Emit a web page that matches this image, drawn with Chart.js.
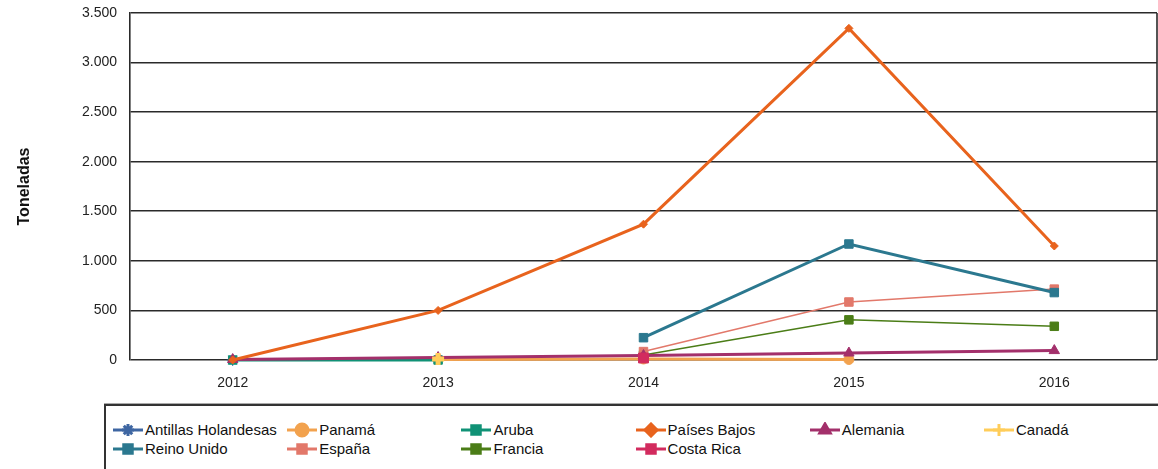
<!DOCTYPE html>
<html>
<head>
<meta charset="utf-8">
<script src="https://cdn.jsdelivr.net/npm/chart.js@4.4.1/dist/chart.umd.min.js"></script>
<style>
  html, body { margin: 0; padding: 0; background: #fff; }
  body { width: 1158px; height: 469px; position: relative; overflow: hidden; font-family: "Liberation Sans", Arial, sans-serif; }
  #wrap { position: absolute; left: 0; top: 0; width: 1158px; height: 400px; }
  #legend {
    position: absolute; left: 104px; top: 404px; width: 1100px; height: 80px;
    border: 2px solid #333; box-shadow: 0 -1px 0 #aaa; box-sizing: border-box;
  }
  .leg-item { position: absolute; height: 19px; display: flex; align-items: center; font-size: 15px; color: #111; white-space: nowrap; }
  .leg-item canvas { margin-right: 2px; }
</style>
</head>
<body>
<div id="wrap"><canvas id="chart"></canvas></div>
<div id="legend"></div>
<script>
// categories and values (toneladas)
const years = ["2012", "2013", "2014", "2015", "2016"];
const yTicks = [0, 500, 1000, 1500, 2000, 2500, 3000, 3500];

const antillasHolandesas = [0, null, null, null, null];
const panama = [null, 5, 10, 5, null];
const aruba = [0, 0, null, null, null];
const paisesBajos = [0, 500, 1370, 3345, 1150];
const alemania = [5, 25, 45, 70, 95];
const canada = [null, 10, null, null, null];
const reinoUnido = [null, null, 225, 1170, 680];
const espana = [null, null, 85, 585, 715];
const francia = [null, null, 50, 405, 340];
const costaRica = [null, null, 20, null, null];

function fmt(v) {
    return String(v).replace(/\B(?=(\d{3})+(?!\d))/g, ".");
}

// name, data, colour, line width, point style, point radius, draw order
const series = [
    ["Antillas Holandesas", antillasHolandesas, "#3e66a2", 3, "star", 6, 9],
    ["Panamá", panama, "#f2a24e", 3, "circle", 5, 8],
    ["Aruba", aruba, "#109276", 3, "rect", 6, 7],
    ["Países Bajos", paisesBajos, "#e8631d", 3, "rectRot", 4, 1],
    ["Alemania", alemania, "#a3306b", 3, "triangle", 6, 4],
    ["Canadá", canada, "#ffcd5a", 3, "cross", 6, 2],
    ["Reino Unido", reinoUnido, "#2b788f", 3, "rect", 6, 5],
    ["España", espana, "#e2786a", 1.5, "rect", 6, 6],
    ["Francia", francia, "#4b7d17", 1.5, "rect", 6, 6],
    ["Costa Rica", costaRica, "#d22b5e", 3, "rect", 7, 3],
];

const datasets = series.map(([label, data, color, width, style, radius, order]) => ({
    label,
    data,
    borderColor: color,
    backgroundColor: color,
    borderWidth: width,
    pointStyle: style,
    pointRadius: radius,
    pointBorderWidth: style === "cross" ? 5 : 1,
    pointBackgroundColor: color,
    pointBorderColor: color,
    order,
    tension: 0,
    spanGaps: false,
    clip: false,
}));

const noPad = (s) => { s.paddingTop = 0; s.paddingBottom = 0; s.paddingLeft = 0; s.paddingRight = 0; };

// right frame line of the plot
const rightFrame = {
    id: "rightFrame",
    beforeDatasetsDraw(chart) {
        const { ctx, chartArea } = chart;
        ctx.save();
        ctx.strokeStyle = "#2a2a2a";
        ctx.lineWidth = 1.6;
        ctx.beginPath();
        ctx.moveTo(chartArea.right, chartArea.top);
        ctx.lineTo(chartArea.right, chartArea.bottom);
        ctx.stroke();
        ctx.restore();
    },
};

new Chart(document.getElementById("chart"), {
    type: "line",
    data: { labels: years, datasets },
    plugins: [rightFrame],
    options: {
        responsive: true,
        maintainAspectRatio: false,
        animation: false,
        layout: { autoPadding: false, padding: { top: 13, right: 1, bottom: 0, left: 0 } },
        plugins: { legend: { display: false }, tooltip: { enabled: false } },
        scales: {
            x: {
                offset: true,
                grid: { display: false },
                border: { display: false },
                ticks: { color: "#222", font: { family: "Liberation Sans", size: 14 }, padding: 7 },
                afterFit: (s) => { s.height = 40; noPad(s); },
            },
            y: {
                min: 0,
                max: 3500,
                afterBuildTicks: (s) => { s.ticks = yTicks.map((v) => ({ value: v })); },
                grid: { color: "#2a2a2a", lineWidth: 1.6, drawTicks: false },
                border: { color: "#2a2a2a", width: 1.6 },
                ticks: { color: "#222", font: { family: "Liberation Sans", size: 14 }, padding: 13, callback: (v) => fmt(v) },
                title: { display: true, text: "Toneladas", color: "#111", font: { family: "Liberation Sans", size: 16, weight: "bold" }, padding: { top: 15, bottom: 0 } },
                afterFit: (s) => { s.width = 130; noPad(s); },
            },
        },
    },
});

// legend laid out in fixed columns like the original
const legend = document.getElementById("legend");
series.forEach(([label, , color], i) => {
    const col = i % 6, row = Math.floor(i / 6);
    const item = document.createElement("div");
    item.className = "leg-item";
    item.style.left = (7 + col * 174.2) + "px";
    item.style.top = (14 + row * 19) + "px";
    const c = document.createElement("canvas");
    c.width = 30; c.height = 16;
    const ctx = c.getContext("2d");
    ctx.strokeStyle = color;
    ctx.lineWidth = 3;
    ctx.beginPath(); ctx.moveTo(0, 8); ctx.lineTo(30, 8); ctx.stroke();
    ctx.fillStyle = color;
    const ds = datasets[i];
    Chart.helpers.drawPoint(ctx, {
        pointStyle: ds.pointStyle, radius: 6, borderWidth: ds.pointBorderWidth, rotation: 0,
    }, 15, 8);
    item.appendChild(c);
    const t = document.createElement("span");
    t.textContent = label;
    item.appendChild(t);
    legend.appendChild(item);
});
</script>
</body>
</html>
